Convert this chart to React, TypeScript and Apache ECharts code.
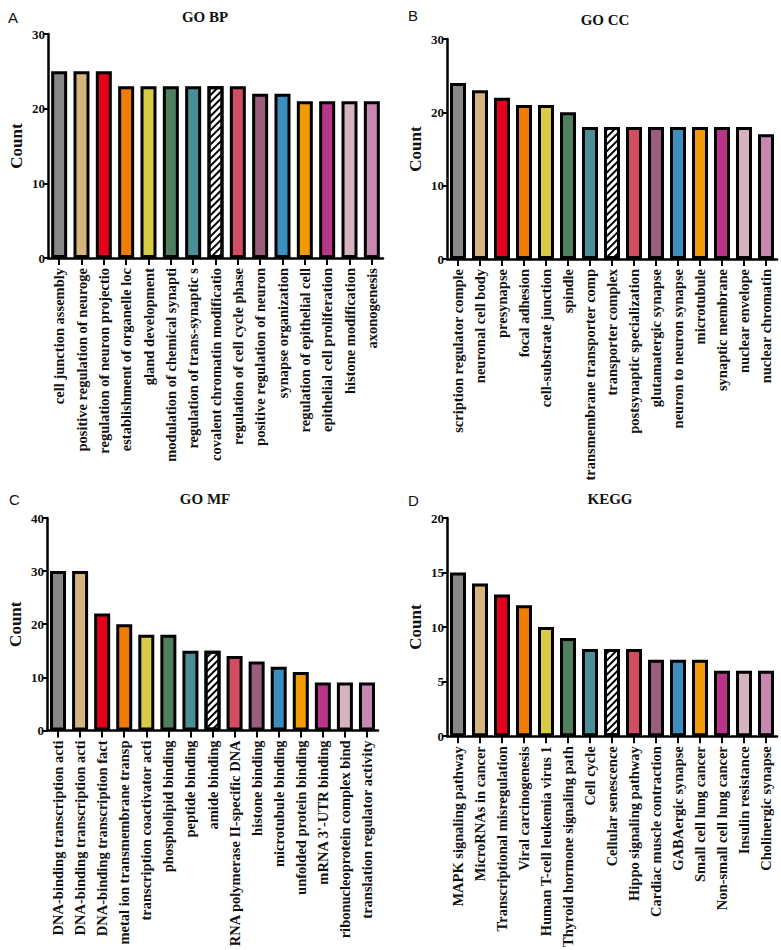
import React, { useEffect, useRef } from "react";
import * as echarts from "echarts";

const bpCategories = [
  "cell junction assembly",
  "positive regulation of neuroge",
  "regulation of neuron projectio",
  "establishment of organelle loc",
  "gland development",
  "modulation of chemical synapti",
  "regulation of trans-synaptic s",
  "covalent chromatin modificatio",
  "regulation of cell cycle phase",
  "positive regulation of neuron",
  "synapse organization",
  "regulation of epithelial cell",
  "epithelial cell proliferation",
  "histone modification",
  "axonogenesis",
];
const bpValues = [25, 25, 25, 23, 23, 23, 23, 23, 23, 22, 22, 21, 21, 21, 21];

const ccCategories = [
  "scription regulator comple",
  "neuronal cell body",
  "presynapse",
  "focal adhesion",
  "cell-substrate junction",
  "spindle",
  "transmembrane transporter comp",
  "transporter complex",
  "postsynaptic specialization",
  "glutamatergic synapse",
  "neuron to neuron synapse",
  "microtubule",
  "synaptic membrane",
  "nuclear envelope",
  "nuclear chromatin",
];
const ccValues = [24, 23, 22, 21, 21, 20, 18, 18, 18, 18, 18, 18, 18, 18, 17];

const mfCategories = [
  "DNA-binding transcription acti",
  "DNA-binding transcription acti",
  "DNA-binding transcription fact",
  "metal ion transmembrane transp",
  "transcription coactivator acti",
  "phospholipid binding",
  "peptide binding",
  "amide binding",
  "RNA polymerase II-specific DNA",
  "histone binding",
  "microtubule binding",
  "unfolded protein binding",
  "mRNA 3'-UTR binding",
  "ribonucleoprotein complex bind",
  "translation regulator activity",
];
const mfValues = [30, 30, 22, 20, 18, 18, 15, 15, 14, 13, 12, 11, 9, 9, 9];

const keggCategories = [
  "MAPK signaling pathway",
  "MicroRNAs in cancer",
  "Transcriptional misregulation",
  "Viral carcinogenesis",
  "Human T-cell leukemia virus 1",
  "Thyroid hormone signaling path",
  "Cell cycle",
  "Cellular senescence",
  "Hippo signaling pathway",
  "Cardiac muscle contraction",
  "GABAergic synapse",
  "Small cell lung cancer",
  "Non-small cell lung cancer",
  "Insulin resistance",
  "Cholinergic synapse",
];
const keggValues = [15, 14, 13, 12, 10, 9, 8, 8, 8, 7, 7, 7, 6, 6, 6];

const barColors = [
  "#878787",
  "#d6b47e",
  "#e5001b",
  "#ef7d05",
  "#d8cb45",
  "#4f7f5e",
  "#4a8f97",
  "hatch",
  "#d04d62",
  "#9a5e7c",
  "#3a8fc0",
  "#f29b05",
  "#b8358a",
  "#d7b3c1",
  "#c886b2",
];

const panelTitles = ["GO BP", "GO CC", "GO MF", "KEGG"];
const panelLetters = ["A", "B", "C", "D"];
const yMax = [30, 30, 40, 20];
const yInterval = [10, 10, 10, 5];

const SERIF = "Liberation Serif";

export default function App() {
  const ref = useRef<HTMLDivElement>(null);

  useEffect(() => {
    if (!ref.current) return;
    const chart = echarts.init(ref.current, undefined, { renderer: "svg" });

    const grids = [
      { left: 48, top: 34, width: 335, height: 224 },
      { left: 447, top: 39, width: 330, height: 220 },
      { left: 47, top: 518, width: 331, height: 221 },
      { left: 447, top: 518, width: 330, height: 221 },
    ];
    const titlePos = [
      { x: 200, y: 4 },
      { x: 600, y: 7 },
      { x: 200, y: 486 },
      { x: 605, y: 486 },
    ];
    const letterPos = [
      { x: 3, y: 5 },
      { x: 403, y: 3 },
      { x: 4, y: 487 },
      { x: 403, y: 488 },
    ];
    const cats = [bpCategories, ccCategories, mfCategories, keggCategories];
    const vals = [bpValues, ccValues, mfValues, keggValues];

    const makeData = (values: number[]) =>
      values.map((v, i) => {
        const c = barColors[i];
        if (c === "hatch") {
          return {
            value: v,
            itemStyle: {
              color: "#ffffff",
              decal: {
                symbol: "rect",
                symbolSize: 1,
                color: "#000000",
                backgroundColor: "#ffffff",
                dashArrayX: [1, 0],
                dashArrayY: [2, 2.5],
                rotation: -Math.PI / 4,
              },
            },
          };
        }
        return { value: v, itemStyle: { color: c } };
      });

    const option: any = {
      animation: false,
      backgroundColor: "#ffffff",
      title: [
        ...panelTitles.map((t, i) => ({
          text: t,
          left: titlePos[i].x,
          top: titlePos[i].y,
          textAlign: "center",
          textStyle: {
            fontFamily: SERIF,
            fontWeight: "bold",
            fontSize: 15,
            color: "#111",
          },
        })),
        ...panelLetters.map((t, i) => ({
          text: t,
          left: letterPos[i].x,
          top: letterPos[i].y,
          textStyle: {
            fontFamily: "Liberation Sans",
            fontWeight: "normal",
            fontSize: 15,
            color: "#111",
          },
        })),
      ],
      grid: grids.map((g) => ({ ...g, containLabel: false })),
      xAxis: cats.map((c, i) => ({
        type: "category",
        gridIndex: i,
        data: c,
        axisLine: { show: true, onZero: false, lineStyle: { color: "#000", width: 2.5 } },
        axisTick: { show: true, alignWithLabel: true, length: 7, lineStyle: { color: "#000", width: 2 } },
        axisLabel: {
          interval: 0,
          rotate: 90,
          margin: 10,
          fontFamily: SERIF,
          fontWeight: "bold",
          fontSize: 14.5,
          color: "#111",
        },
        splitLine: { show: false },
      })),
      yAxis: yMax.map((m, i) => ({
        type: "value",
        gridIndex: i,
        min: 0,
        max: m,
        interval: yInterval[i],
        name: "Count",
        nameLocation: "middle",
        nameGap: 23,
        nameTextStyle: {
          fontFamily: SERIF,
          fontWeight: "bold",
          fontSize: 17,
          color: "#111",
        },
        axisLine: { show: true, lineStyle: { color: "#000", width: 2.5 } },
        axisTick: { show: true, length: 5, lineStyle: { color: "#000", width: 2 } },
        axisLabel: {
          margin: 3,
          fontFamily: SERIF,
          fontWeight: "bold",
          fontSize: 13,
          color: "#111",
        },
        splitLine: { show: false },
      })),
      series: vals.map((v, i) => ({
        type: "bar",
        xAxisIndex: i,
        yAxisIndex: i,
        data: makeData(v),
        barWidth: 16,
        itemStyle: { borderColor: "#000", borderWidth: 3 },
      })),
    };

    chart.setOption(option);
    return () => chart.dispose();
  }, []);

  return (
    <div
      ref={ref}
      style={{ position: "absolute", left: 0, top: 0, width: 781, height: 950, background: "#fff" }}
    />
  );
}
